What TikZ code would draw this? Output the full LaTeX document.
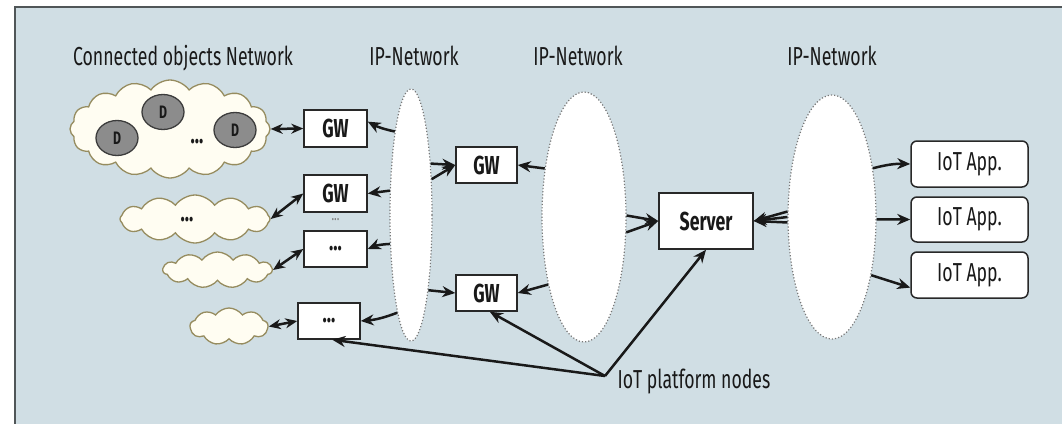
\documentclass[tikz,border=0pt]{standalone}
\usepackage{fontspec}
\setmainfont{Fira Sans}[FakeStretch=0.68]
\usetikzlibrary{shapes.symbols,shapes.geometric,arrows.meta}

\definecolor{panel}{RGB}{208,222,228}
\definecolor{frameline}{RGB}{80,86,88}
\definecolor{boxline}{RGB}{40,40,40}
\definecolor{netgray}{RGB}{120,120,120}
\definecolor{cloudfill}{RGB}{255,253,242}
\definecolor{cloudline}{RGB}{150,140,95}
\definecolor{devfill}{RGB}{140,140,140}
\definecolor{devline}{RGB}{60,60,60}
\definecolor{ink}{RGB}{25,25,25}

\newcommand{\labelfont}{\fontsize{26}{29}\selectfont}
\newcommand{\boxfont}{\fontsize{26}{29}\selectfont\bfseries}

\begin{document}
\begin{tikzpicture}[x=1pt,y=-1pt,
  tbox/.style={draw=boxline, line width=1.5pt, fill=white, inner sep=0pt,
    minimum width=63pt, minimum height=37pt, font=\boxfont, text=ink},
  app/.style={tbox, rounded corners=6pt, minimum width=117pt,
    minimum height=46pt, font=\labelfont},
  net/.style={ellipse, draw=netgray, dotted, line width=1.2pt, fill=white,
    inner sep=0pt},
  cloudy/.style={cloud, cloud puffs=#1, cloud puff arc=110, draw=cloudline,
    fill=cloudfill, line width=1.3pt, inner sep=0pt},
  dev/.style={ellipse, draw=devline, fill=devfill, line width=1.3pt,
    minimum width=42pt, minimum height=35pt, inner sep=0pt,
    font=\fontsize{18}{20}\selectfont\bfseries, text=ink},
  title/.style={font=\labelfont, text=ink, anchor=base},
  link/.style={draw=ink, line width=2.5pt, -{Stealth[length=13pt,width=11pt]}},
  both/.style={draw=ink, line width=2.5pt,
    {Stealth[length=12pt,width=10pt]}-{Stealth[length=12pt,width=10pt]}}
]
\useasboundingbox (0,0) rectangle (1062,423);
% panel
\fill[white] (0,0) rectangle (1062,423);
\draw[frameline, line width=2pt, fill=panel] (15,7) rectangle (1080,440);

% headings
\node[title] (tco) at (183,65) {Connected objects Network};
\node[title] (tip1) at (414,65) {IP-Network};
\node[title] (tip2) at (578,65) {IP-Network};
\node[title] (tip3) at (832,65) {IP-Network};

% IP networks
\node[net, minimum width=42pt, minimum height=252pt] (e1) at (411,215) {};
\node[net, minimum width=84pt, minimum height=250pt] (e2) at (584,217) {};
\node[net, minimum width=88pt, minimum height=244pt] (e3) at (832,217) {};

% connected object networks
\node[cloudy=16, aspect=2.1, minimum width=200pt, minimum height=98pt] (c1) at (170,129) {};
\node[cloudy=12, aspect=3.1, minimum width=150pt, minimum height=48pt] (c2) at (195,219) {};
\node[cloudy=11, aspect=3.0, minimum width=109pt, minimum height=36pt] (c3) at (217.5,270) {};
\node[cloudy=9, aspect=2.1, minimum width=78pt, minimum height=37pt] (c4) at (229,326.5) {};

% devices
\node[dev] (d1) at (117,138) {D};
\node[dev] (d2) at (163,112) {D};
\node[dev] (d3) at (235,130) {D};
\node[font=\boxfont, text=ink] (c1dots) at (197,142) {...};
\node[font=\boxfont, text=ink] (c2dots) at (187,220) {...};

% gateways
\node[tbox] (gw1) at (335.5,128.5) {GW};
\node[tbox] (gw2) at (335.5,193.5) {GW};
\node[font=\fontsize{16}{18}\selectfont, text=netgray] (gdots) at (335.5,220) {...};
\node[tbox, minimum height=36pt] (box3) at (335.5,249) {...};
\node[tbox, minimum width=62pt, minimum height=36pt] (box4) at (329,321) {...};
\node[tbox, minimum width=61pt, minimum height=36pt] (gwm) at (486.5,165) {GW};
\node[tbox, minimum width=61pt, minimum height=36pt] (gwb) at (486.5,293) {GW};

% server and applications
\node[tbox, minimum width=94pt, minimum height=56pt] (srv) at (706,221) {Server};
\node[app] (app1) at (969.5,164) {IoT App.};
\node[app, minimum height=45pt] (app2) at (969.5,219.5) {IoT App.};
\node[app] (app3) at (969.5,275) {IoT App.};

% object networks <-> gateways
\draw[both] (c1.east) -- (gw1.west);
\draw[both] (c2.east) -- (gw2.west);
\draw[both] (c3.east) -- (box3.west);
\draw[both] (c4.east) -- (box4.west);

% first IP network
\draw[link] (e1.101) to[bend left=8] (gw1.12);
\draw[link] (e1.131) -- (gw2.east);
\draw[link] (e1.234) to[bend right=10] (box3.east);
\draw[link] (e1.262) to[bend left=8] (box4.east);
\draw[link] (e1.69) -- (gwm.west);
\draw[link] (e1.60) -- (gwm.west);
\draw[link] (e1.283) -- (gwb.west);

% second IP network
\draw[link] (e2.129) -- (gwm.east);
\draw[link] (e2.242) -- (gwb.east);
\draw[link] (e2.2) -- (srv.west);
\draw[link] (e2.340) -- (srv.west);

% third IP network
\draw[link] (e3.173) -- (srv.east);
\draw[link] (e3.180) -- (srv.east);
\draw[link] (e3.187) -- (srv.east);
\draw[link] (e3.50) to[bend left=8] (app1.west);
\draw[link] (e3.357) -- (app2.west);
\draw[link] (e3.304) -- (app3.192);

% platform nodes callout
\coordinate (apex) at (605,376);
\node[font=\labelfont, text=ink, anchor=base west] (plat) at (614,388) {IoT platform nodes};
\draw[link] (apex) -- (box4.-80);
\draw[link] (apex) -- (gwb.-80);
\draw[link] (apex) -- (srv.south);
\end{tikzpicture}
\end{document}
